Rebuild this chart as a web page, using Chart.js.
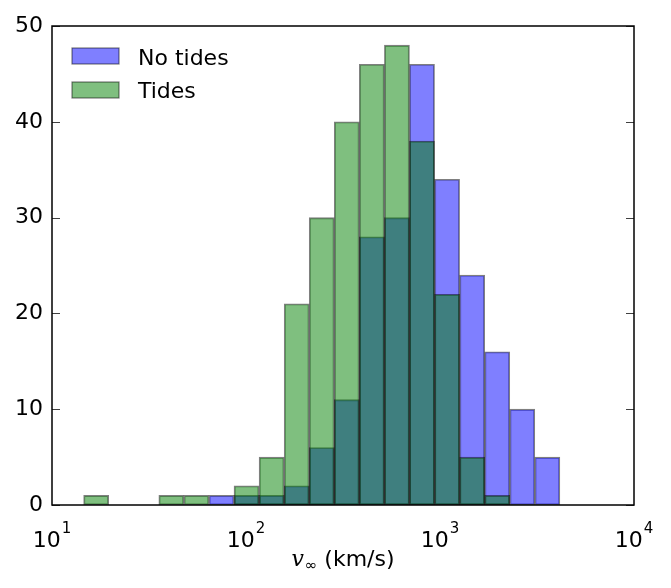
<!DOCTYPE html>
<html><head><meta charset="utf-8">
<script src="https://cdn.jsdelivr.net/npm/chart.js@4.4.1/dist/chart.umd.min.js"></script>
<style>html,body{margin:0;padding:0;background:#fff;} canvas{display:block;}</style>
</head><body>
<canvas id="c" width="671" height="588"></canvas>
<script>
// Histogram bin edges (km/s), log-spaced
const binEdges = [14.55, 19.60, 26.39, 35.53, 47.84, 64.42, 86.74, 116.8, 157.3, 211.8,
                  285.1, 383.9, 516.9, 696.0, 937.2, 1262, 1699, 2288, 3081, 4148];
// Counts per bin
const noTidesCounts = [0, 0, 0, 0, 0, 1, 1, 1, 2, 6, 11, 28, 30, 46, 34, 24, 16, 10, 5];
const tidesCounts   = [1, 0, 0, 1, 1, 0, 2, 5, 21, 30, 40, 46, 48, 38, 22, 5, 1, 0, 0];
const seriesNames = ['No tides', 'Tides'];
const xTickExponents = [1, 2, 3, 4];
const yTickValues = [0, 10, 20, 30, 40, 50];

const binCenters = binEdges.slice(0, -1).map((e, i) => Math.sqrt(e * binEdges[i + 1]));
const toPoints = counts => counts.map((c, i) => ({x: binCenters[i], y: c > 0 ? c : null}));

const FONT = '"DejaVu Sans", sans-serif';

const decor = {
  id: 'decor',
  afterDatasetsDraw(chart) {
    const {ctx, chartArea: a, scales: {x, y}} = chart;
    ctx.save();
    // inner y tick marks, left and right
    ctx.strokeStyle = 'rgba(0,0,0,0.75)';
    ctx.lineWidth = 1;
    yTickValues.forEach(v => {
      const py = Math.round(y.getPixelForValue(v)) + 0.5;
      ctx.beginPath();
      ctx.moveTo(a.left, py); ctx.lineTo(a.left + 8, py);
      ctx.moveTo(a.right, py); ctx.lineTo(a.right - 8, py);
      ctx.stroke();
    });
    // frame
    ctx.strokeStyle = '#000';
    ctx.lineWidth = 1.5;
    ctx.strokeRect(a.left, a.top, a.right - a.left, a.bottom - a.top);

    // x tick labels 10^n
    ctx.fillStyle = '#000';
    ctx.textBaseline = 'alphabetic';
    ctx.textAlign = 'left';
    xTickExponents.forEach(e => {
      const px = x.getPixelForValue(Math.pow(10, e));
      ctx.font = '22px ' + FONT;
      const w1 = ctx.measureText('10').width;
      ctx.font = '15px ' + FONT;
      const w2 = ctx.measureText(String(e)).width;
      const start = px - (w1 + w2 + 1) / 2;
      ctx.font = '22px ' + FONT;
      ctx.fillText('10', start, 547);
      ctx.font = '15px ' + FONT;
      ctx.fillText(String(e), start + w1 + 1, 533);
    });

    // x axis title: v_inf (km/s)
    const fv = 'italic 22px "DejaVu Serif", serif';
    const fs = '15px ' + FONT;
    const fu = '22px ' + FONT;
    ctx.font = fv; const wv = ctx.measureText('v').width;
    ctx.font = fs; const wsub = ctx.measureText('∞').width;
    ctx.font = fu; const wu = ctx.measureText(' (km/s)').width;
    const total = wv + wsub + wu + 1;
    let sx = (a.left + a.right) / 2 - total / 2;
    const base = 566;
    ctx.font = fv; ctx.fillText('v', sx, base); sx += wv + 1;
    ctx.font = fs; ctx.fillText('∞', sx, base + 4); sx += wsub;
    ctx.font = fu; ctx.fillText(' (km/s)', sx, base);

    // legend
    const ds = chart.data.datasets;
    const rows = [{y: 48, base: 65}, {y: 82, base: 98}];
    ds.forEach((d, i) => {
      const r = rows[i];
      ctx.fillStyle = d.backgroundColor;
      ctx.fillRect(72, r.y, 47, 16);
      ctx.strokeStyle = d.borderColor;
      ctx.lineWidth = 1.2;
      ctx.strokeRect(72, r.y, 47, 16);
      ctx.fillStyle = '#000';
      ctx.font = '22px ' + FONT;
      ctx.fillText(d.label, 138, r.base);
    });
    ctx.restore();
  }
};

new Chart(document.getElementById('c'), {
  type: 'bar',
  data: {
    datasets: [
      {label: seriesNames[0], data: toPoints(noTidesCounts), order: 1,
       backgroundColor: 'rgba(0,0,255,0.5)', borderColor: 'rgba(0,0,0,0.5)', borderWidth: 1.2,
       borderSkipped: false, grouped: false, barPercentage: 1, categoryPercentage: 1},
      {label: seriesNames[1], data: toPoints(tidesCounts), order: 0,
       backgroundColor: 'rgba(0,128,0,0.5)', borderColor: 'rgba(0,0,0,0.5)', borderWidth: 1.2,
       borderSkipped: false, grouped: false, barPercentage: 1, categoryPercentage: 1}
    ]
  },
  options: {
    responsive: false,
    animation: false,
    layout: {padding: {left: 0, top: 26, right: 37, bottom: 0}},
    plugins: {legend: {display: false}, tooltip: {enabled: false}},
    scales: {
      x: {
        type: 'logarithmic', min: 10, max: 10000,
        afterBuildTicks: s => { s.ticks = xTickExponents.map(e => ({value: Math.pow(10, e)})); },
        afterFit: s => { s.height = 83; },
        ticks: {display: false},
        grid: {display: false, drawTicks: false},
        border: {display: false}
      },
      y: {
        type: 'linear', min: 0, max: 50,
        afterFit: s => { s.width = 52; },
        ticks: {stepSize: 10, padding: 9, color: '#000', font: {family: 'DejaVu Sans', size: 22}},
        grid: {display: false, drawTicks: false},
        border: {display: false}
      }
    }
  },
  plugins: [decor]
});
</script>
</body></html>
